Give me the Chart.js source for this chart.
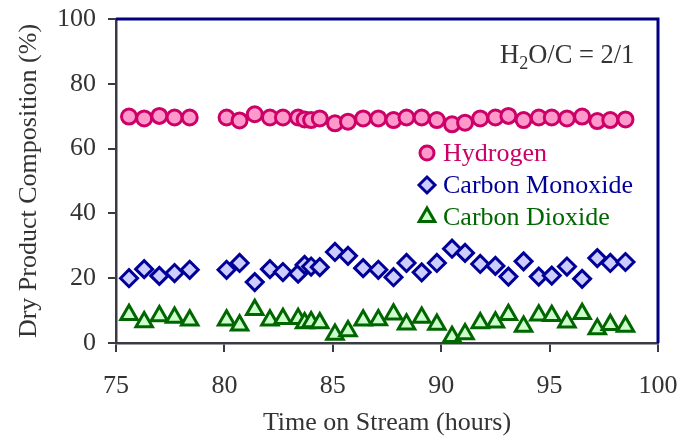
<!DOCTYPE html>
<html>
<head>
<meta charset="utf-8">
<script src="https://cdn.jsdelivr.net/npm/chart.js@4/dist/chart.umd.min.js"></script>
<style>
  html, body { margin: 0; padding: 0; background: #fff; }
  #wrap { width: 692px; height: 439px; }
</style>
</head>
<body>
<div id="wrap"><canvas id="myChart" width="692" height="439"></canvas></div>
<script>
// time on stream (hours), one entry per sample
var hours = [75.6, 76.3, 77.0, 77.7, 78.4, 80.1, 80.7, 81.4, 82.1, 82.7, 83.4, 83.7, 84.0, 84.4,
             85.1, 85.7, 86.4, 87.1, 87.8, 88.4, 89.1, 89.8, 90.5, 91.1, 91.8, 92.5, 93.1, 93.8,
             94.5, 95.1, 95.8, 96.5, 97.2, 97.8, 98.5];

var hydrogen = [69.9, 69.3, 70.1, 69.6, 69.6, 69.6, 68.7, 70.6, 69.6, 69.6, 69.6, 69.0, 68.8, 69.3,
                67.8, 68.3, 69.3, 69.3, 68.8, 69.6, 69.6, 68.8, 67.5, 68.0, 69.3, 69.6, 70.1, 68.8,
                69.6, 69.6, 69.3, 69.9, 68.5, 68.8, 69.0];

var carbonMonoxide = [20.0, 22.8, 20.7, 21.6, 22.6, 22.6, 24.7, 18.8, 22.8, 21.9, 21.4, 24.1, 23.6, 23.4,
                      28.1, 26.9, 23.1, 22.6, 20.3, 24.7, 21.8, 24.7, 29.1, 27.8, 24.4, 23.8, 20.5, 25.2,
                      20.5, 20.8, 23.6, 19.8, 26.2, 24.7, 25.0];

var carbonDioxide = [8.7, 6.5, 8.3, 7.9, 7.0, 7.0, 5.5, 10.3, 7.0, 7.5, 7.5, 6.2, 6.5, 6.2,
                     2.6, 3.7, 7.0, 7.1, 8.9, 5.8, 7.9, 5.7, 1.9, 2.8, 6.2, 6.4, 8.7, 5.1,
                     8.6, 8.4, 6.4, 9.0, 4.3, 5.6, 5.1];

var xTicks = [75, 80, 85, 90, 95, 100];
var yTicks = [0, 20, 40, 60, 80, 100];

var axisColor = '#3a3a44';
var textColor = '#333333';
var frameColor = '#000080';
var fontFamily = '"Liberation Serif", "Times New Roman", serif';

function pts(ys) {
    return hours.map((h, i) => ({ x: h, y: ys[i] }));
}

var series = [
    { label: 'Hydrogen', data: hydrogen, style: 'circle', radius: 7.5, fill: '#ff99cc', line: '#cc0066', text: '#cc0066' },
    { label: 'Carbon Monoxide', data: carbonMonoxide, style: 'rectRot', radius: 8.5, fill: '#ccccff', line: '#000099', text: '#000099' },
    { label: 'Carbon Dioxide', data: carbonDioxide, style: 'triangle', radius: 9.5, fill: '#ccffcc', line: '#006600', text: '#006600' }
];

// keep the plot box where the reference has it (no extra room for edge labels)
function noEdgePadding(s) {
    s.paddingTop = 0;
    s.paddingBottom = 0;
    s.paddingLeft = 0;
    s.paddingRight = 0;
}

// frame on top/right, legend inside plot and the H2O/C note
var extras = {
    id: 'extras',
    afterDatasetsDraw(chart) {
        var ctx = chart.ctx, a = chart.chartArea;
        ctx.save();
        ctx.strokeStyle = frameColor;
        ctx.lineWidth = 3;
        ctx.beginPath();
        ctx.moveTo(a.left, a.top);
        ctx.lineTo(a.right, a.top);
        ctx.lineTo(a.right, a.bottom);
        ctx.stroke();
        ctx.restore();
    },
    afterDraw(chart) {
        var ctx = chart.ctx;
        ctx.save();
        // legend
        series.forEach((s, i) => {
            var y = 153 + i * 32;
            ctx.fillStyle = s.fill;
            ctx.strokeStyle = s.line;
            ctx.lineWidth = 3;
            Chart.helpers.drawPoint(ctx, { pointStyle: s.style, radius: s.radius - 0.5, rotation: 0, borderWidth: 3 }, 427, y);
            ctx.font = '26px ' + fontFamily;
            ctx.fillStyle = s.text;
            ctx.textAlign = 'left';
            ctx.textBaseline = 'middle';
            ctx.fillText(s.label, 443, y + 1);
        });
        // H2O/C = 2/1
        ctx.fillStyle = textColor;
        ctx.textBaseline = 'alphabetic';
        var x = 500;
        ctx.font = '26.5px ' + fontFamily;
        ctx.fillText('H', x, 63);
        x += ctx.measureText('H').width;
        ctx.font = '18px ' + fontFamily;
        ctx.fillText('2', x, 69);
        x += ctx.measureText('2').width;
        ctx.font = '26.5px ' + fontFamily;
        ctx.fillText('O/C = 2/1', x, 63);
        ctx.restore();
    }
};

Chart.defaults.font.family = fontFamily;
Chart.defaults.font.size = 26;
Chart.defaults.color = textColor;

const config = {
    type: 'scatter',
    data: {
        datasets: series.map(s => ({
            label: s.label,
            data: pts(s.data),
            pointStyle: s.style,
            pointRadius: s.radius,
            pointHoverRadius: s.radius,
            pointBorderWidth: 3,
            backgroundColor: s.fill,
            borderColor: s.line,
            showLine: false
        }))
    },
    options: {
        responsive: false,
        animation: false,
        clip: false,
        layout: { padding: { top: 19, right: 34, left: 0, bottom: 0 } },
        plugins: {
            legend: { display: false },
            tooltip: { enabled: false }
        },
        scales: {
            x: {
                type: 'linear',
                min: 75,
                max: 100,
                afterBuildTicks: s => { s.ticks = xTicks.map(v => ({ value: v })); },
                afterFit: s => { s.height = 96; noEdgePadding(s); },
                ticks: { color: textColor, padding: 19, font: { size: 26 } },
                grid: { drawOnChartArea: false, tickLength: 9, color: axisColor, lineWidth: 2 },
                border: { color: axisColor, width: 2.5 },
                title: { display: true, text: 'Time on Stream (hours)', color: textColor, font: { size: 26 }, padding: { top: 0, bottom: 0 } }
            },
            y: {
                min: 0,
                max: 100,
                afterBuildTicks: s => { s.ticks = yTicks.map(v => ({ value: v })); },
                afterFit: s => { s.width = 116; noEdgePadding(s); },
                ticks: { color: textColor, padding: 12, font: { size: 26 } },
                grid: { drawOnChartArea: false, tickLength: 8, color: axisColor, lineWidth: 2 },
                border: { color: axisColor, width: 2.5 },
                title: { display: true, text: 'Dry Product Composition (%)', color: textColor, font: { size: 26 }, padding: { top: 14, bottom: 0 } }
            }
        }
    },
    plugins: [extras]
};

var myChart = new Chart(document.getElementById('myChart'), config);
</script>
</body>
</html>
